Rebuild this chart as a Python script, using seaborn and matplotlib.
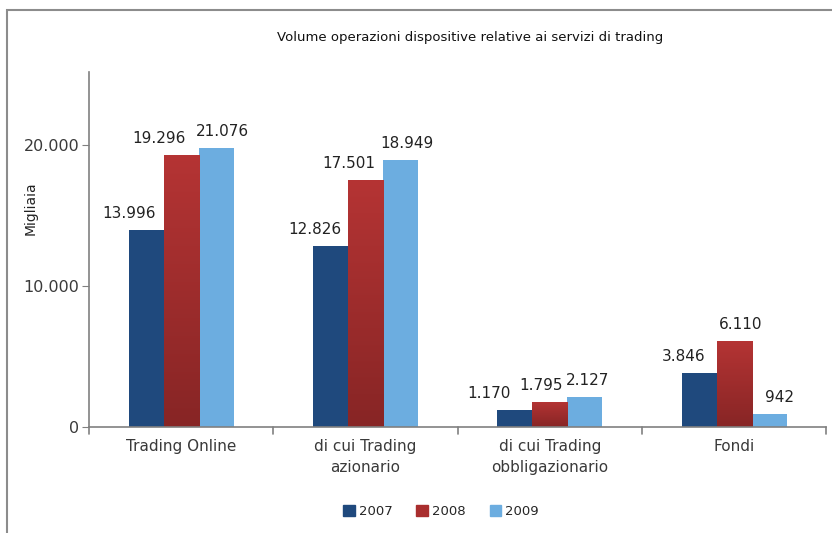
import numpy as np
import pandas as pd
import matplotlib
matplotlib.use("Agg")
import matplotlib.pyplot as plt
import matplotlib.patches as mpatches
import seaborn as sns

categories = ["Trading Online", "di cui Trading\nazionario", "di cui Trading\nobbligazionario", "Fondi"]
years = ["2007", "2008", "2009"]
# bar heights as drawn in the reference (thousands)
v2007 = [13996, 12826, 1170, 3846]
v2008 = [19296, 17501, 1795, 6110]
v2009 = [19800, 18949, 2127, 942]
# data labels as printed in the reference
l2007 = ["13.996", "12.826", "1.170", "3.846"]
l2008 = ["19.296", "17.501", "1.795", "6.110"]
l2009 = ["21.076", "18.949", "2.127", "942"]
yticks = [0, 10000, 20000]
ytick_labels = ["0", "10.000", "20.000"]

# horizontal nudges of the data labels (pixels), as placed in the reference
dx2007 = [-17, -16, -26, -15]
dx2008 = [-22, -17, -9, 7]
dx2009 = [6, 6, 3, 10]

colors = {"2007": "#1f497d", "2008": "#a92e2e", "2009": "#6cade0"}

rows = []
for y, vals in zip(years, [v2007, v2008, v2009]):
    for c, v in zip(categories, vals):
        rows.append({"cat": c, "year": y, "val": v})
df = pd.DataFrame(rows)

sns.set_style("white")
plt.rcParams["font.family"] = ["DejaVu Sans"]

fig = plt.figure(figsize=(8.32, 5.33), dpi=100)
ax = fig.add_axes([0.107, 0.199, 0.886, 0.666])

sns.barplot(data=df, x="cat", y="val", hue="year", order=categories, hue_order=years,
            palette=colors, width=0.57, gap=0, ax=ax, legend=True, errorbar=None,
            saturation=1, linewidth=0)

ax.set_ylim(0, 25200)
ax.set_xlim(-0.5, 3.5)
ax.set_yticks(yticks)
ax.set_yticklabels(ytick_labels, fontsize=11.5, color="#3a3a3a")
ax.set_xticks([0, 1, 2, 3])
ax.set_xticklabels(categories, fontsize=11, color="#3a3a3a", linespacing=1.45)
ax.set_xlabel("")
ax.set_ylabel("")

for s in ["top", "right"]:
    ax.spines[s].set_visible(False)
for s in ["left", "bottom"]:
    ax.spines[s].set_color("#808080")
    ax.spines[s].set_linewidth(1.2)

ax.tick_params(axis="y", length=5, direction="out", color="#808080", left=True, pad=2)
ax.tick_params(axis="x", length=0, pad=9)
# category boundary tick marks
for xb in [-0.5, 0.5, 1.5, 2.5, 3.5]:
    ax.plot([xb, xb], [0, -500], color="#808080", lw=1.2, clip_on=False)

labels_all = [l2007, l2008, l2009]
dx_all = [dx2007, dx2008, dx2009]
cmap = matplotlib.colors.LinearSegmentedColormap.from_list("r", ["#872525", "#b53434"])
for ci, cont in enumerate(ax.containers):
    for bi, bar in enumerate(cont):
        x0, w, h = bar.get_x(), bar.get_width(), bar.get_height()
        if years[ci] == "2008":
            grad = np.linspace(0, 1, 256).reshape(-1, 1)
            im = ax.imshow(grad, extent=[x0, x0 + w, 0, h], origin="lower",
                           aspect="auto", cmap=cmap, zorder=bar.get_zorder() + 0.1)
            im.set_clip_path(bar)
        ax.annotate(labels_all[ci][bi], (x0 + w / 2, h), xytext=(dx_all[ci][bi], 12),
                    textcoords="offset pixels", ha="center", va="baseline",
                    fontsize=11, color="#222222")
ax.set_xlim(-0.5, 3.5)
ax.set_ylim(0, 25200)

ax.legend_.remove()
handles = [mpatches.Patch(color=colors[y]) for y in years]
fig.legend(handles, years, loc="center", bbox_to_anchor=(0.53, 0.04), ncol=3,
           frameon=False, fontsize=9.5, handlelength=0.9, handleheight=0.9,
           columnspacing=1.8, handletextpad=0.3)

fig.text(0.565, 0.93, "Volume operazioni dispositive relative ai servizi di trading",
         ha="center", va="center", fontsize=9.5, color="#111111")
fig.text(0.037, 0.61, "Migliaia", rotation=90, ha="center", va="center",
         fontsize=10, color="#222222")

fig.patches.append(mpatches.Rectangle((0.0084, -0.1), 1.2, 1.081, fill=False,
                                      edgecolor="#8c8c8c", lw=1.5,
                                      transform=fig.transFigure, figure=fig))

fig.savefig("out.png", dpi=100)
